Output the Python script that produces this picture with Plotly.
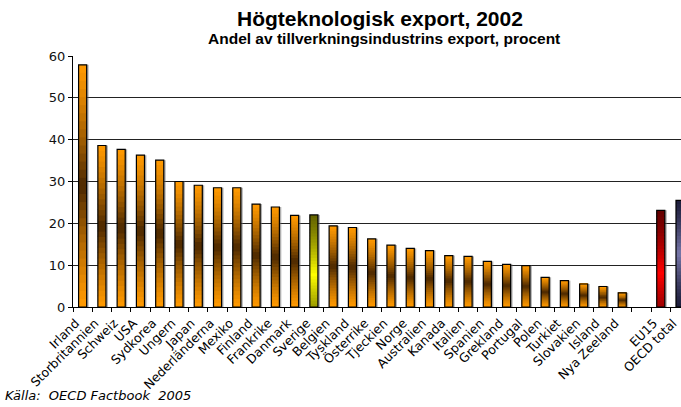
import plotly.graph_objects as go

# ---- data ----
countries = ["Irland", "Storbritannien", "Schweiz", "USA", "Sydkorea", "Ungern", "Japan",
             "Nederländerna", "Mexiko", "Finland", "Frankrike", "Danmark", "Sverige",
             "Belgien", "Tyskland", "Österrike", "Tjeckien", "Norge", "Australien",
             "Kanada", "Italien", "Spanien", "Grekland", "Portugal", "Polen", "Turkiet",
             "Slovakien", "Island", "Nya Zeeland", " ", "EU15", "OECD total"]
values = [57.9, 38.6, 37.7, 36.3, 35.1, 30.0, 29.1, 28.5, 28.5, 24.6, 23.9, 21.9, 22.0,
          19.4, 19.0, 16.3, 14.8, 14.0, 13.5, 12.3, 12.1, 10.9, 10.2, 9.9, 7.1, 6.3,
          5.5, 4.9, 3.4, None, 23.1, 25.5]
y_ticks = [0, 10, 20, 30, 40, 50, 60]

# ---- styling: gradient per bar (edge colour, centre colour, centre position) ----
ORANGE = ((255, 153, 0), (75, 40, 0), 0.5)
SWEDEN = ((100, 100, 0), (255, 255, 0), 0.35)
EU = ((100, 0, 0), (255, 0, 0), 0.35)
OECD = ((30, 30, 60), (120, 120, 170), 0.5)
styles = []
for c in countries:
    if c == "Sverige":
        styles.append(SWEDEN)
    elif c == "EU15":
        styles.append(EU)
    elif c == "OECD total":
        styles.append(OECD)
    else:
        styles.append(ORANGE)


def blend(a, b, t):
    return "rgb(%d,%d,%d)" % tuple(round(a[i] + (b[i] - a[i]) * t) for i in range(3))


N = 30
W = 0.42
fig = go.Figure()

# shadow
fig.add_trace(go.Bar(x=countries, y=values, width=W, offset=-W / 2 + 0.1,
                     marker=dict(color="rgba(110,110,110,0.55)", line=dict(width=0)),
                     hoverinfo="skip", showlegend=False))

for k in range(N):
    fm = (k + 0.5) / N
    bases, heights, cols = [], [], []
    for v, (edge, centre, cpos) in zip(values, styles):
        if v is None:
            bases.append(None); heights.append(None); cols.append("rgba(0,0,0,0)")
            continue
        d = abs(fm - cpos) / max(cpos, 1 - cpos)
        t = max(0.0, 1 - d) ** 1.3
        bases.append(v * k / N)
        heights.append(v / N + (0.3 if k < N - 1 else 0.0))
        cols.append(blend(edge, centre, t))
    fig.add_trace(go.Bar(x=countries, y=heights, base=bases, width=W, offset=-W / 2,
                         marker=dict(color=cols, line=dict(width=0)),
                         hoverinfo="skip", showlegend=False))

# outline
fig.add_trace(go.Bar(x=countries, y=values, width=W, offset=-W / 2,
                     marker=dict(color="rgba(0,0,0,0)", line=dict(color="black", width=1.2)),
                     showlegend=False))

fig.update_layout(
    width=681, height=407,
    barmode="overlay",
    paper_bgcolor="white", plot_bgcolor="white",
    margin=dict(l=73, r=0, t=56, b=100),
    font=dict(family="DejaVu Sans", size=12, color="black"),
    xaxis=dict(
        type="category", range=[-0.5, 31.05], tickangle=-45, automargin=False,
        ticks="outside", ticklen=4, tickcolor="black", tickson="boundaries",
        ticklabelshift=-7, ticklabelstandoff=3,
        showline=True, linecolor="black", linewidth=1, showgrid=False,
        tickfont=dict(family="DejaVu Sans", size=12.5, color="black"),
    ),
    yaxis=dict(
        range=[0, 60], tickvals=y_ticks, ticks="outside", ticklen=4, tickcolor="black",
        automargin=False,
        showline=True, linecolor="black", linewidth=1,
        showgrid=True, gridcolor="#222", gridwidth=1,
        tickfont=dict(family="DejaVu Sans", size=13, color="#111"),
    ),
    annotations=[
        dict(text="<b>Högteknologisk export, 2002</b>", xref="paper", yref="paper",
             x=0.505, y=1.15, xanchor="center", yanchor="middle", showarrow=False,
             font=dict(family="Liberation Sans", size=21, color="black")),
        dict(text="<b>Andel av tillverkningsindustrins export, procent</b>", xref="paper", yref="paper",
             x=0.511, y=1.068, xanchor="center", yanchor="middle", showarrow=False,
             font=dict(family="Liberation Sans", size=15.5, color="black")),
        dict(text="<i>Källa:  OECD Factbook  2005</i>", xref="paper", yref="paper",
             x=-0.115, y=-0.39, xanchor="left", yanchor="bottom", showarrow=False,
             font=dict(family="DejaVu Sans", size=13, color="black")),
    ],
)

fig.write_html("out.html", config={"displayModeBar": False},
               post_script="document.body.style.margin='0';document.body.style.overflow='hidden';")
